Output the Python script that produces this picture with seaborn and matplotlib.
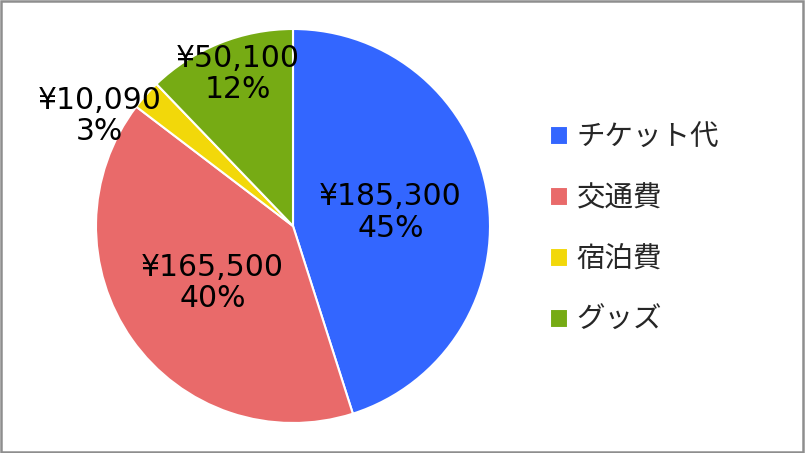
import numpy as np
import matplotlib
matplotlib.use("Agg")
import matplotlib.pyplot as plt
import seaborn as sns
from matplotlib.patches import Rectangle

sns.set_theme(style="white")
plt.rcParams['font.family'] = ['DejaVu Sans', 'Noto Sans CJK JP']

# data
categories = ["チケット代", "交通費", "宿泊費", "グッズ"]
amounts = [185300, 165500, 10090, 50100]
pct_labels = ["45%", "40%", "3%", "12%"]
colors = ["#3366FF", "#E96A6A", "#F2D80A", "#76AB14"]

# label placement (radius as fraction of pie radius, angle shift in degrees)
label_r = [0.50, 0.50, 1.13, 0.82]
label_shift = [-1, 0, 12, -2]

fig = plt.figure(figsize=(8.05, 4.53), dpi=100)
W, H = 805, 453
cx, cy, R = 293, 453 - 226, 197
ax = fig.add_axes([(cx - R) / W, (cy - R) / H, 2 * R / W, 2 * R / H])

wedges, _ = ax.pie(amounts, colors=colors, startangle=90, counterclock=False,
                   radius=1.0, wedgeprops=dict(edgecolor="white", linewidth=1.5))
ax.set_xlim(-1, 1)
ax.set_ylim(-1, 1)
ax.set_aspect("equal")
ax.axis("off")

for w, amt, pct, r, sh in zip(wedges, amounts, pct_labels, label_r, label_shift):
    ang = np.deg2rad((w.theta1 + w.theta2) / 2 + sh)
    ax.text(r * np.cos(ang), r * np.sin(ang), f"¥{amt:,}\n{pct}",
            ha="center", va="center", fontsize=21.5, color="black",
            linespacing=1.1, clip_on=False)

# legend
leg = fig.legend(wedges, categories, loc="center left",
                 bbox_to_anchor=(524 / W, 1 - 229 / H), frameon=False,
                 prop=dict(family=['Noto Sans CJK JP', 'DejaVu Sans'], size=20.5),
                 handlelength=0.65, handleheight=0.65,
                 handletextpad=0.3, labelspacing=1.08)

# outer frame
fig.patches.append(Rectangle((0.001, 0.002), 0.997, 0.995, transform=fig.transFigure,
                             fill=False, edgecolor="#8E8E8E", linewidth=1.8))

fig.savefig("out.png", dpi=100)
